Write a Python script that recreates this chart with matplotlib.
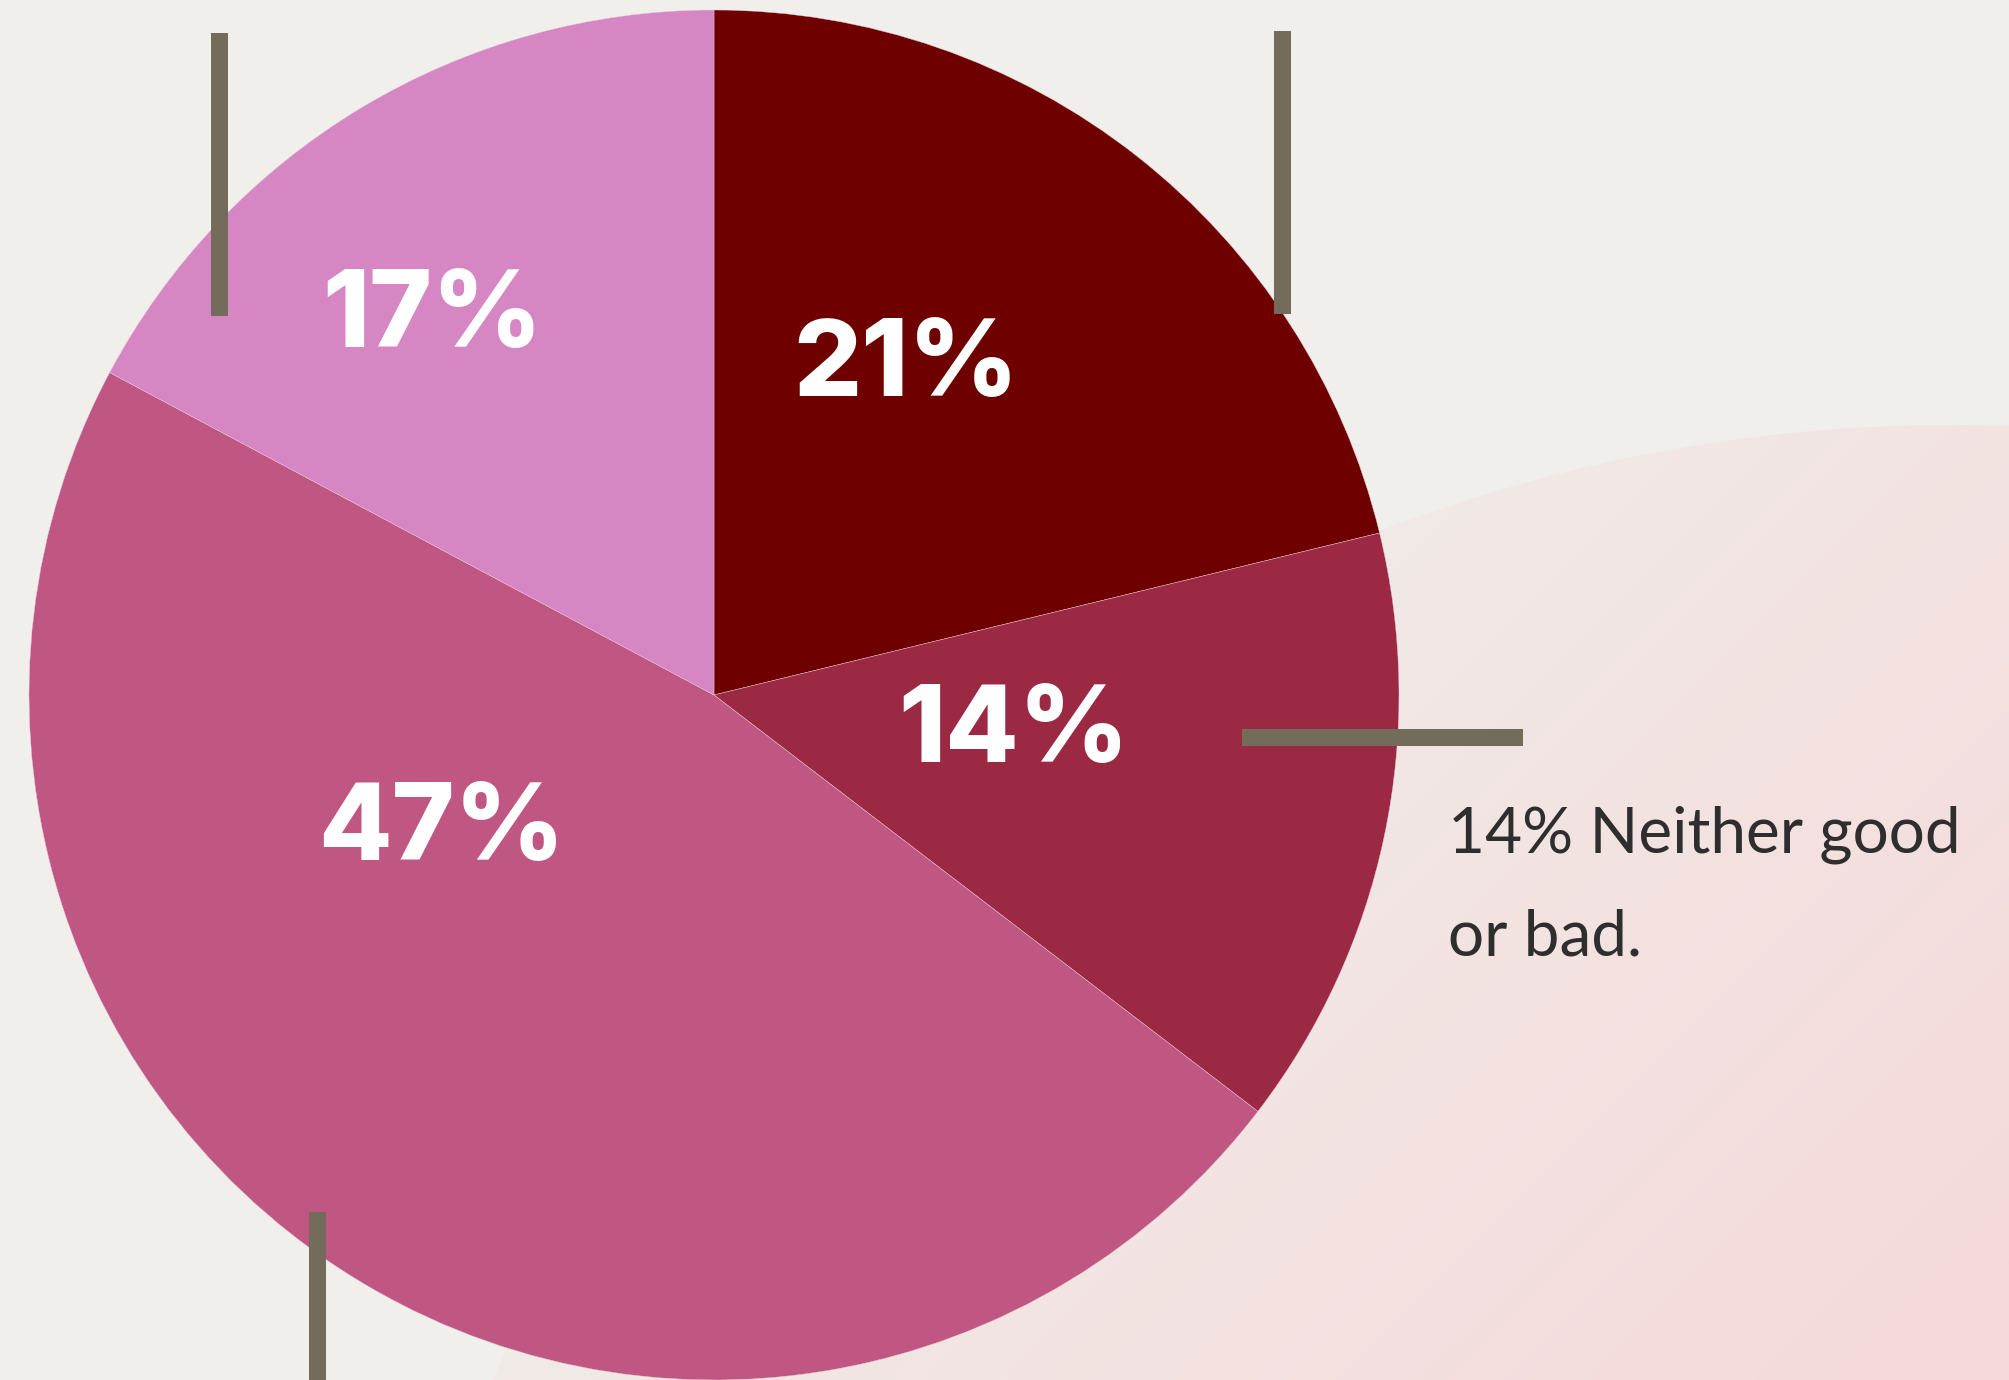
import numpy as np
import matplotlib
matplotlib.use("Agg")
import matplotlib.pyplot as plt
from matplotlib.patches import Rectangle, Circle

# ---- data ----
categories = ["Good", "Neither good or bad", "Bad", "Don't know"]
values = [21.2, 14.2, 47.4, 17.2]
pct_labels = ["21%", "14%", "47%", "17%"]
colors = ["#6e0000", "#9c2943", "#c05783", "#d687c3"]
note_lines = ["14% Neither good", "or bad."]

# ---- layout (pixel units, y up) ----
W, H = 2009, 1380
BG = "#f0efeb"
BAR = "#736c5a"
pie_center = (714, 685)
pie_radius = 685
label_xy = [(906, 984), (1014, 618), (441, 520), (432, 1033)]

fig = plt.figure(figsize=(W / 100, H / 100), dpi=100)
fig.patch.set_facecolor(BG)
ax = fig.add_axes([0, 0, 1, 1])
ax.set_facecolor(BG)

# soft pink gradient blob in lower right
gx = np.linspace(0, W, 400)
gy = np.linspace(0, H, 280)
X, Y = np.meshgrid(gx, gy)
s = (X - Y) / np.sqrt(2)
t = np.clip((s - 237.6) / (1420.6 - 237.6), 0, 1)
c0 = np.array([240, 236, 232]) / 255
c1 = np.array([246, 216, 218]) / 255
img = c0[None, None, :] * (1 - t[..., None]) + c1[None, None, :] * t[..., None]
im = ax.imshow(img, extent=[0, W, 0, H], origin="lower", zorder=0, interpolation="bilinear")
blob = Circle((1950, -634), 1589, transform=ax.transData, facecolor="none", edgecolor="none")
ax.add_patch(blob)
im.set_clip_path(blob)

wedges, _ = ax.pie(values, colors=colors, startangle=90, counterclock=False,
                   center=pie_center, radius=pie_radius, frame=True,
                   wedgeprops=dict(edgecolor="#e9c9d8", linewidth=0.3))
for w in wedges:
    w.set_zorder(2)

for lab, (x, y) in zip(pct_labels, label_xy):
    ax.text(x, y, lab, ha="center", va="baseline", color="white",
            fontsize=77, fontweight="heavy", family=["Inter", "Lato"], zorder=5)

# marker bars
bars = [(211, 1064, 17, 283), (1274, 1066, 17, 283), (309, 0, 17, 168), (1242, 634, 281, 17)]
for (x, y, w, h) in bars:
    ax.add_patch(Rectangle((x, y), w, h, facecolor=BAR, edgecolor="none", zorder=6))

ax.text(1448, 528, note_lines[0], ha="left", va="baseline", color="#2e2e2e",
        fontsize=46, family="Lato", zorder=6)
ax.text(1448, 425, note_lines[1], ha="left", va="baseline", color="#2e2e2e",
        fontsize=46, family="Lato", zorder=6)

ax.set_xlim(0, W)
ax.set_ylim(0, H)
ax.set_aspect("equal")
ax.axis("off")
fig.savefig("out.png", dpi=100, facecolor=BG)
